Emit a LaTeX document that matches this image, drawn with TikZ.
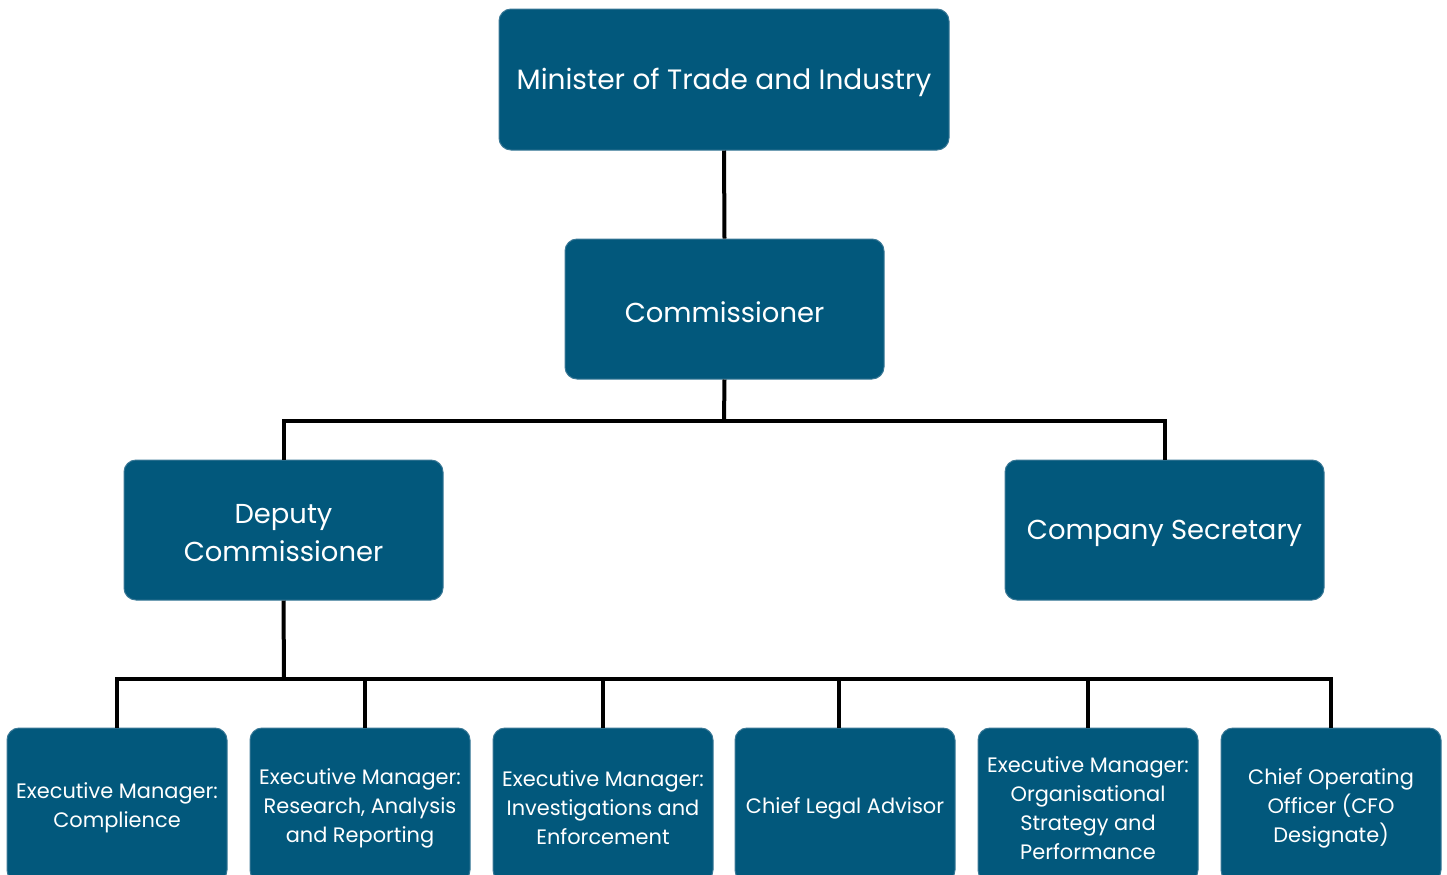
\documentclass[tikz,border=0pt]{standalone}
\usepackage{fontspec}
\setmainfont{Poppins}
\definecolor{boxblue}{HTML}{02587C}
\definecolor{boxedge}{HTML}{3A7896}
\begin{document}
\begin{tikzpicture}[x=0.5pt,y=-0.5pt,
  box/.style={draw=boxedge, line width=0.5pt, fill=boxblue, rounded corners=6pt, inner sep=0pt, anchor=center},
  lbl/.style={text=white, align=center, inner sep=0pt, yshift=-1.5pt},
  big/.style={lbl, font=\fontsize{14}{17}\selectfont},
  mid/.style={lbl, font=\fontsize{13.7}{19}\selectfont},
  small/.style={lbl, font=\fontsize{10.45}{14.5}\selectfont},
  topbox/.style={box,minimum width=225pt,minimum height=70.5pt},
  midbox/.style={box,minimum width=159.5pt,minimum height=70pt},
  lowbox/.style={box,minimum width=110pt,minimum height=77pt},
  conn/.style={line width=2pt, draw=black}]
\clip (0,0) rectangle (1447,874);
\node[topbox, label={[big]center:{Minister of Trade and Industry}}] (min) at (724,79.5) {};
\node[midbox, label={[mid]center:{Commissioner}}] (com) at (724.5,309) {};
\node[midbox, label={[mid]center:{Deputy\\Commissioner}}] (dep) at (283.5,530) {};
\node[midbox, label={[mid]center:{Company Secretary}}] (sec) at (1164.5,530) {};
\node[lowbox, label={[small]center:{Executive Manager:\\Complience}}] (b1) at (117,805) {};
\node[lowbox, label={[small]center:{Executive Manager:\\Research, Analysis\\and Reporting}}] (b2) at (360,805) {};
\node[lowbox, label={[small]center:{Executive Manager:\\Investigations and\\Enforcement}}] (b3) at (603,805) {};
\node[lowbox, label={[small]center:{Chief Legal Advisor}}] (b4) at (845,805) {};
\node[lowbox, label={[small]center:{Executive Manager:\\Organisational\\Strategy and\\Performance}}] (b5) at (1088,805) {};
\node[lowbox, label={[small]center:{Chief Operating\\Officer (CFO\\Designate)}}] (b6) at (1331,805) {};
\coordinate (bus1) at (724,421);
\coordinate (bus2) at (284,679);
\coordinate (t2) at ([xshift=2.5pt]b2.north);
\coordinate (t3) at (b3.north);
\coordinate (t4) at ([xshift=-3pt]b4.north);
\coordinate (t5) at (b5.north);
\draw[conn] (min.south) -- (com.north);
\draw[conn] (com.south) -- (bus1);
\draw[conn] (dep.north) |- (bus1) -| (sec.north);
\draw[conn] (dep.south) -- (bus2);
\draw[conn] (b1.north) |- (bus2) -| (b6.north);
\draw[conn] (t2) -- (t2 |- bus2);
\draw[conn] (t3) -- (t3 |- bus2);
\draw[conn] (t4) -- (t4 |- bus2);
\draw[conn] (t5) -- (t5 |- bus2);
\end{tikzpicture}
\end{document}
